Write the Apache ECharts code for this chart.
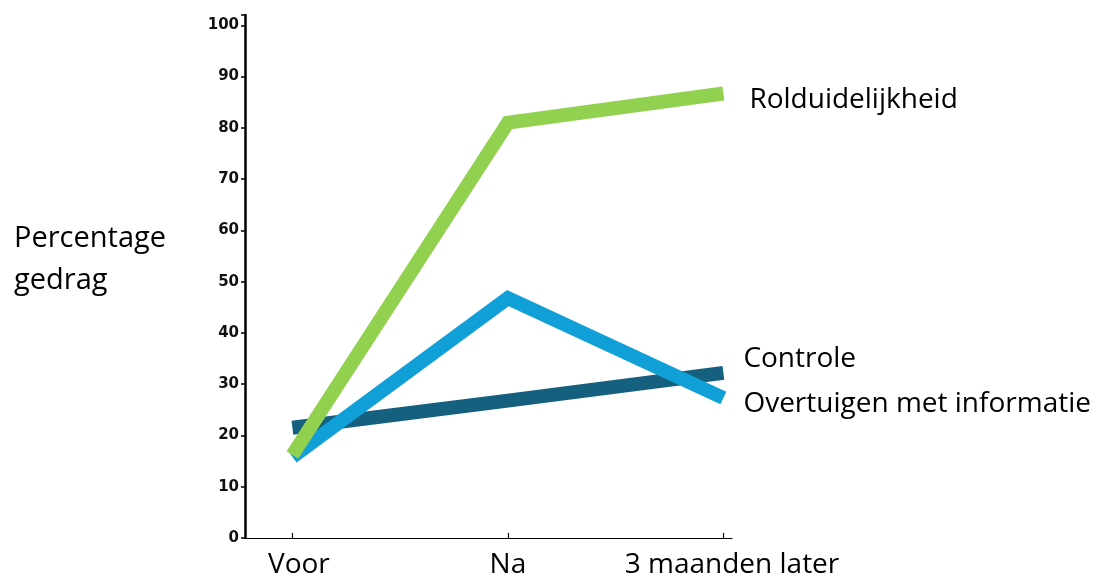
<!DOCTYPE html>
<html>
<head>
<meta charset="utf-8">
<script src="https://cdn.jsdelivr.net/npm/echarts@6/dist/echarts.min.js"></script>
<style>
    html, body { margin: 0; padding: 0; background: #fff; }
    #chart { width: 1104px; height: 580px; }
</style>
</head>
<body>
<div id="chart"></div>
<script>

// Data
// ------------------------------

var categories = ['Voor', 'Na', '3 maanden later'];
var controle = [21.5, 26.8, 32.2];
var overtuigen = [15.8, 46.8, 27.3];
var rolduidelijkheid = [16.2, 81, 86.7];
var yTicks = [0, 10, 20, 30, 40, 50, 60, 70, 80, 90, 100];


// Setup chart
// ------------------------------

var chart_element = document.getElementById('chart');
var chart = echarts.init(chart_element, null, { renderer: 'canvas' });

var textFont = 'Open Sans';

var toPoints = function(values) {
    return values.map(function(v, i) { return [i, v]; });
};

var lineSeries = function(name, values, color, labelOffset) {
    return {
        name: name,
        type: 'line',
        data: toPoints(values),
        symbol: 'none',
        silent: true,
        lineStyle: {
            color: color,
            width: 14,
            cap: 'butt',
            join: 'miter'
        },
        endLabel: {
            show: true,
            formatter: name,
            color: '#000',
            fontFamily: textFont,
            fontSize: 28,
            offset: labelOffset
        }
    };
};

chart.setOption({
    animation: false,

    textStyle: {
        fontFamily: textFont,
        color: '#000'
    },

    grid: {
        left: 245,
        right: 372,
        top: 15,
        bottom: 42,
        containLabel: false
    },

    // Vertical title
    graphic: [{
        type: 'text',
        left: 14,
        top: 218,
        style: {
            text: 'Percentage\ngedrag',
            fontFamily: textFont,
            fontSize: 29,
            lineHeight: 42,
            fill: '#000'
        }
    }],

    // Horizontal axis
    xAxis: {
        type: 'value',
        min: -0.22,
        max: 2.04,
        splitLine: { show: false },
        axisLine: {
            show: true,
            onZero: false,
            lineStyle: { color: '#000', width: 1.2 }
        },
        axisTick: {
            show: true,
            customValues: [0, 1, 2],
            inside: true,
            length: 5,
            lineStyle: { color: '#000', width: 1.2 }
        },
        axisLabel: {
            customValues: [0.03, 1, 2.04],
            showMaxLabel: true,
            hideOverlap: false,
            margin: 13,
            fontSize: 28,
            fontFamily: textFont,
            color: '#000',
            formatter: function(v) {
                return categories[Math.round(v)];
            }
        }
    },

    // Vertical axis
    yAxis: {
        type: 'value',
        min: 0,
        max: 102,
        interval: 10,
        splitLine: { show: false },
        axisLine: {
            show: true,
            onZero: false,
            lineStyle: { color: '#000', width: 2.5 }
        },
        axisTick: {
            show: true,
            length: 4,
            lineStyle: { color: '#000', width: 1.5 }
        },
        axisLabel: {
            margin: 6,
            fontFamily: 'DejaVu Sans',
            fontWeight: 'bold',
            fontSize: 15,
            color: '#111',
            formatter: function(v) {
                return yTicks.indexOf(v) >= 0 ? String(v) : '';
            }
        }
    },

    series: [
        lineSeries('Controle', controle, '#16607F', [12, -14]),
        lineSeries('Overtuigen met informatie', overtuigen, '#109FD6', [12, 6]),
        lineSeries('Rolduidelijkheid', rolduidelijkheid, '#92D050', [18, 7])
    ]
});

</script>
</body>
</html>
